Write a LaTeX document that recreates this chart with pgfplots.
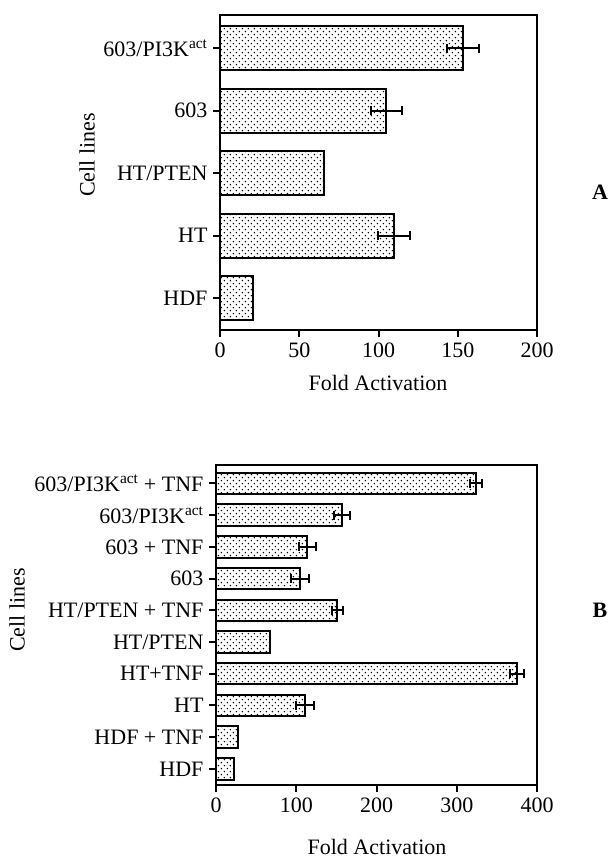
\documentclass[border=0pt]{standalone}
\usepackage{fontspec}
\setmainfont{Liberation Serif}
\usepackage{pgfplots}
\pgfplotsset{compat=1.18}
\usetikzlibrary{patterns.meta}
\tikzdeclarepattern{
  name=bardots, type=uncolored,
  bounding box={(0,0) and (6.4pt,6.4pt)},
  tile size={(6.4pt,6.4pt)},
  code={\fill (1.6pt,1.6pt) circle (0.85pt); \fill (4.8pt,4.8pt) circle (0.85pt);}
}
\pgfplotsset{
  myaxis/.style={
    scale only axis,
    anchor=south west,
    axis line style={line width=2pt},
    tick style={line width=2pt, black},
    tick align=outside,
    major tick length=7pt,
    xtick pos=bottom,
    ytick pos=left,
    font=\fontsize{22}{26}\selectfont,
    /pgf/number format/assume math mode=true,
    ytick={0,...,20},
    yticklabel style={xshift=-2pt},
    xticklabel style={yshift=-2pt},
    clip=false,
  },
  mybar/.style={xbar, draw=black, line width=2pt, fill=white, postaction={pattern=bardots, pattern color=black}},
  myerr/.style={draw=none, mark=none, forget plot,
    error bars/.cd, x dir=both, x explicit,
    error mark=|,
    error bar style={line width=2pt, draw=black},
    error mark options={draw=black, line width=2pt, mark size=4.5pt}},
}
\begin{document}
\begin{tikzpicture}
\useasboundingbox (0,0) rectangle (611pt,861pt);
% ---------- Panel A ----------
\begin{axis}[myaxis,
  at={(220pt,531pt)}, width=317pt, height=315pt,
  xmin=0, xmax=200, xtick={0,50,100,150,200},
  ymin=-0.51, ymax=4.53,
  yticklabels={HDF, HT, HT/PTEN, 603, 603/PI3K\textsuperscript{act}},
]
\addplot [mybar, bar width=44pt] coordinates {
  (20.7,0) (109.6,1) (65.5,2) (105,3) (153.5,4)
};
\addplot [myerr] coordinates {
  (109.6,1) +- (10,0)
  (105,3) +- (10,0)
  (153.5,4) +- (10,0)
};
\end{axis}
% ---------- Panel B ----------
\begin{axis}[myaxis,
  at={(216pt,76pt)}, width=321pt, height=320pt,
  xmin=0, xmax=400, xtick={0,100,200,300,400},
  ymin=-0.51, ymax=9.58,
  yticklabels={HDF, HDF + TNF, HT, HT+TNF, HT/PTEN, HT/PTEN + TNF, 603, 603 + TNF, 603/PI3K\textsuperscript{act}, 603/PI3K\textsuperscript{act} + TNF},
]
\addplot [mybar, bar width=21.5pt] coordinates {
  (22,0) (28,1) (111,2) (375,3) (67,4) (151,5) (105,6) (114,7) (157,8) (324,9)
};
\addplot [myerr] coordinates {
  (111,2) +- (11,0)
  (375,3) +- (9,0)
  (151,5) +- (7,0)
  (105,6) +- (11,0)
  (114,7) +- (10,0)
  (157,8) +- (10,0)
  (324,9) +- (7,0)
};
\end{axis}
% ---------- labels ----------
\begin{scope}[font=\fontsize{22}{26}\selectfont]
\node at (378pt,478pt) {Fold Activation};
\node[inner sep=0pt] at (377pt,14pt) {Fold Activation};
\node[rotate=90] at (87pt,706pt) {Cell lines};
\node[rotate=90] at (17pt,251pt) {Cell lines};
\node[font=\fontsize{22}{26}\selectfont\bfseries] at (600pt,669pt) {A};
\node[font=\fontsize{22}{26}\selectfont\bfseries] at (600pt,251pt) {B};
\end{scope}
\end{tikzpicture}
\end{document}
